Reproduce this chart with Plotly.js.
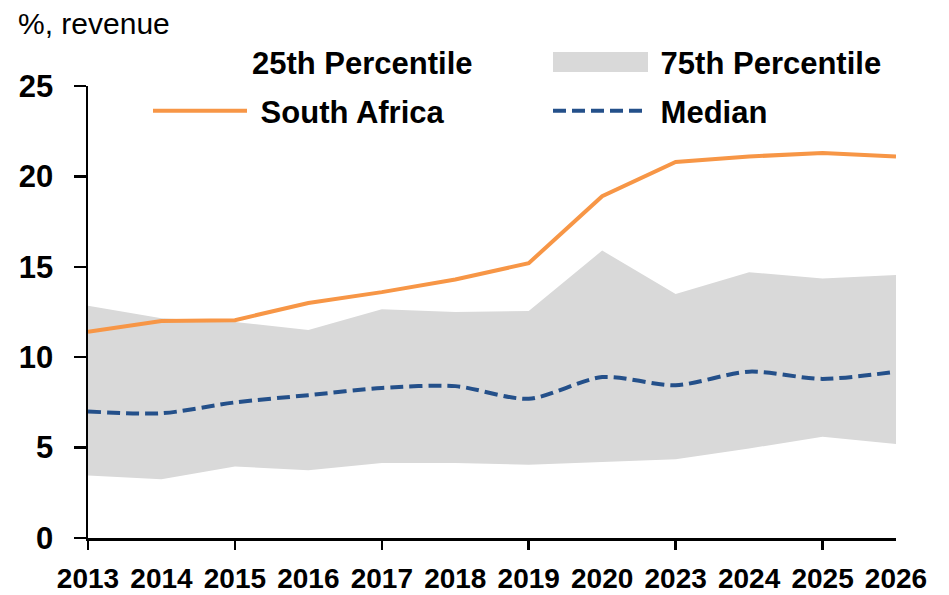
<!DOCTYPE html>
<html>
<head>
<meta charset="utf-8">
<script src="https://cdn.plot.ly/plotly-3.0.1.min.js"></script>
<style>html,body{margin:0;padding:0;background:#fff;}#chart{width:949px;height:595px;}</style>
</head>
<body>
<div id="chart"></div>
<script>
const years = ['2013','2014','2015','2016','2017','2018','2019','2020','2023','2024','2025','2026'];
const southAfrica = [11.4, 12.0, 12.05, 13.0, 13.6, 14.3, 15.2, 18.9, 20.8, 21.1, 21.3, 21.1];
const median = [7.0, 6.9, 7.5, 7.9, 8.3, 8.4, 7.7, 8.9, 8.45, 9.2, 8.8, 9.2];
const p25 = [3.45, 3.25, 3.95, 3.75, 4.15, 4.15, 4.05, 4.2, 4.35, 4.95, 5.6, 5.2];
const p75 = [12.85, 12.15, 11.95, 11.5, 12.65, 12.5, 12.55, 15.9, 13.5, 14.7, 14.35, 14.55];
const xTickMarks = ['2013','2015','2017','2019','2023','2025'];

const FONT = '"Liberation Sans", Arial, sans-serif';
const W = 949, H = 595;

const idx = years.map((_, i) => i);
const markIdx = xTickMarks.map(y => years.indexOf(y));
const NB = '\u00a0';

const traces = [
  {x: idx, y: p25, name: '25th Percentile', type: 'scatter', mode: 'lines', legend: 'legend',
   line: {width: 0, color: 'rgba(0,0,0,0)'}, hoverinfo: 'skip'},
  {x: idx, y: p75, name: NB + '75th Percentile', type: 'scatter', mode: 'lines', legend: 'legend2',
   fill: 'tonexty', fillcolor: '#d9d9d9', line: {width: 0, color: 'rgba(0,0,0,0)'}},
  {x: idx, y: southAfrica, name: NB + 'South Africa', type: 'scatter', mode: 'lines', legend: 'legend3',
   line: {color: '#f79646', width: 4}},
  {x: idx, y: median, name: NB + 'Median', type: 'scatter', mode: 'lines', legend: 'legend4',
   line: {color: '#24508a', width: 4, dash: '13px,6px', shape: 'spline', smoothing: 0.8}},
  {x: [0], y: [null], xaxis: 'x2', showlegend: false, hoverinfo: 'skip', mode: 'lines'}
];

function leg(xpx, ypx) {
  return {orientation: 'h', xref: 'container', yref: 'container',
          x: xpx / W, xanchor: 'left', y: 1 - ypx / H, yanchor: 'middle',
          itemwidth: 94, borderwidth: 0,
          font: {family: FONT, size: 31, color: '#000', weight: 'bold'},
          bgcolor: 'rgba(0,0,0,0)'};
}

// enlarged swatch for the shaded band's legend entry
const px2x = p => (p - 88) / (W - 88 - 53);
const px2y = p => (538 - p) / (538 - 86);

const layout = {
  width: W, height: H,
  margin: {l: 88, r: 53, t: 86, b: 57, autoexpand: false},
  paper_bgcolor: '#fff', plot_bgcolor: '#fff',
  font: {family: FONT, color: '#000'},
  title: {text: '%, revenue', x: 18 / W, xanchor: 'left', xref: 'container',
          y: 1 - 23 / H, yanchor: 'middle', yref: 'container',
          font: {family: FONT, size: 30, color: '#000'}},
  showlegend: true,
  legend: leg(148, 62),
  legend2: leg(548, 62),
  legend3: leg(148, 111),
  legend4: leg(548, 111),
  shapes: [{type: 'rect', xref: 'paper', yref: 'paper', layer: 'above',
            x0: px2x(553), x1: px2x(648), y0: px2y(72), y1: px2y(52),
            fillcolor: '#d9d9d9', line: {width: 0}}],
  xaxis: {range: [0, 11], tickvals: idx, ticktext: years, ticks: '', showgrid: false,
          tickangle: 0, ticklabelstandoff: 14,
          zeroline: false, showline: true, linecolor: '#000', linewidth: 2.5,
          tickfont: {family: FONT, size: 28, weight: 'bold', color: '#000'}, fixedrange: true},
  xaxis2: {overlaying: 'x', range: [0, 11], tickvals: markIdx, ticks: 'outside', ticklen: 11,
           tickwidth: 2.5, tickcolor: '#000', showticklabels: false, showgrid: false,
           zeroline: false, showline: false, side: 'bottom', anchor: 'y'},
  yaxis: {range: [0, 25], dtick: 5, tick0: 0, ticks: 'outside', ticklen: 12, tickwidth: 2.5,
          tickcolor: '#000', showgrid: false, zeroline: false, showline: true,
          ticklabelstandoff: 14,
          linecolor: '#000', linewidth: 2.5,
          tickfont: {family: FONT, size: 31, weight: 'bold', color: '#000'}, fixedrange: true}
};

Plotly.newPlot('chart', traces, layout, {displayModeBar: false, staticPlot: true});
</script>
</body>
</html>
